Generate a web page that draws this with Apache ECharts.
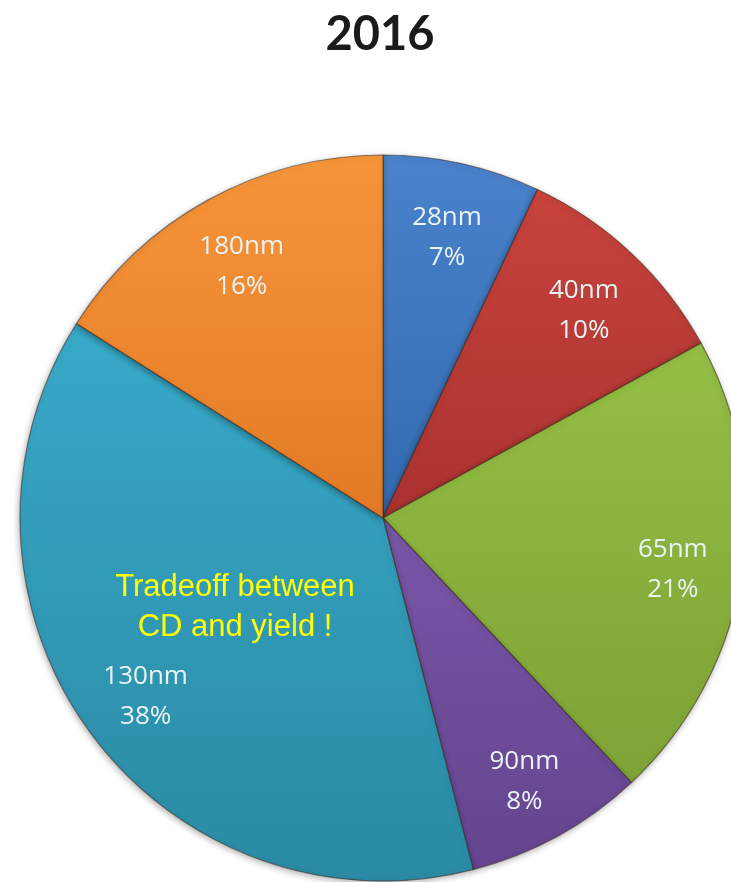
<!DOCTYPE html>
<html>
<head>
<meta charset="utf-8">
<style>
  html, body { margin: 0; padding: 0; background: #ffffff; }
  #chart { width: 731px; height: 882px; }
</style>
<script src="https://cdn.jsdelivr.net/npm/echarts@6/dist/echarts.min.js"></script>
</head>
<body>
<div id="chart"></div>
<script>
// Process node share, 2016
const nodes = ['28nm', '40nm', '65nm', '90nm', '130nm', '180nm'];
const shares = [7, 10, 21, 8, 38, 16];
const topColors = ['#4a82cc', '#c8433c', '#94bf44', '#7a56a8', '#38a9c8', '#f7953a'];
const bottomColors = ['#336aae', '#aa3230', '#7ea236', '#64448e', '#2a8aa4', '#e27a26'];

const chartTitle = '2016';
const noteLines = ['Tradeoff between', 'CD and yield !'];

const CX = 383, CY = 518, R = 363;

const chart = echarts.init(document.getElementById('chart'), null, { renderer: 'canvas' });

const sliceData = nodes.map((n, i) => ({
  name: n,
  value: shares[i],
  itemStyle: {
    color: new echarts.graphic.LinearGradient(0, 0, 0, 1, [
      { offset: 0, color: topColors[i] },
      { offset: 1, color: bottomColors[i] }
    ])
  }
}));

const labelData = nodes.map((n, i) => ({ name: n, value: shares[i] }));

chart.setOption({
  animation: false,
  backgroundColor: '#ffffff',
  series: [
    {
      type: 'pie',
      center: [CX, CY],
      radius: [0, R],
      startAngle: 90,
      clockwise: true,
      silent: true,
      label: { show: false },
      labelLine: { show: false },
      itemStyle: {
        borderColor: 'rgba(60,40,30,0.55)',
        borderWidth: 1.2,
        shadowBlur: 6,
        shadowColor: 'rgba(0,0,0,0.3)',
        shadowOffsetX: -1,
        shadowOffsetY: 2
      },
      data: sliceData
    },
    {
      // transparent ring that carries the labels at ~0.8 of the radius
      type: 'pie',
      center: [CX, CY + 6],
      radius: [R * 0.6, R],
      startAngle: 90,
      clockwise: true,
      silent: true,
      itemStyle: { color: 'rgba(0,0,0,0)' },
      labelLine: { show: false },
      label: {
        show: true,
        position: 'inside',
        rotate: 0,
        formatter: p => p.name + '\n' + p.value + '%',
        fontFamily: 'Open Sans',
        fontSize: 26,
        lineHeight: 40,
        color: '#eaf3f6'
      },
      data: labelData
    }
  ],
  graphic: [
    {
      type: 'text',
      z: 100,
      x: 380,
      y: 11,
      style: {
        text: chartTitle,
        fontFamily: 'Lato',
        fontWeight: 'bold',
        fontSize: 47,
        fill: '#1a1a1a',
        align: 'center',
        verticalAlign: 'top'
      }
    },
    {
      type: 'text',
      z: 100,
      x: 235,
      y: 567,
      style: {
        text: noteLines.join('\n'),
        fontFamily: 'Liberation Sans',
        fontSize: 31,
        lineHeight: 40,
        fill: '#ffff00',
        align: 'center',
        verticalAlign: 'top'
      }
    }
  ]
});
</script>
</body>
</html>
